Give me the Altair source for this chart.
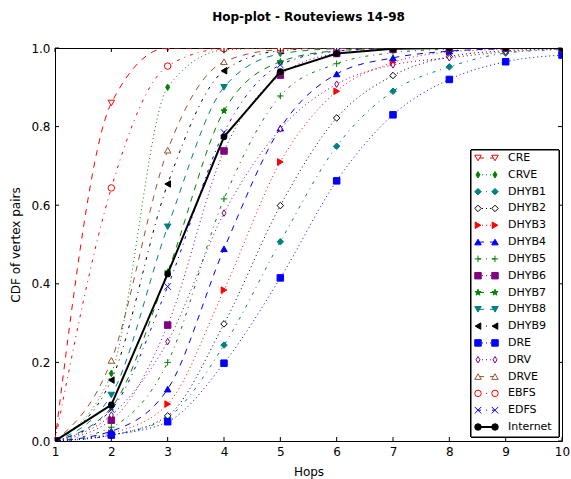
import altair as alt
import pandas as pd
import math

hops = [1, 2, 3, 4, 5, 6, 7, 8, 9, 10]

CRE = [0.0, 0.86, 1.0, 1.0, 1.0, 1.0, 1.0, 1.0, 1.0, 1.0]
CRVE = [0.0, 0.172, 0.90, 0.995, 1.0, 1.0, 1.0, 1.0, 1.0, 1.0]
DHYB1 = [0.0, 0.015, 0.06, 0.244, 0.507, 0.75, 0.89, 0.952, 0.987, 0.996]
DHYB2 = [0.0, 0.015, 0.064, 0.298, 0.599, 0.822, 0.93, 0.978, 0.993, 0.998]
DHYB3 = [0.0, 0.02, 0.094, 0.384, 0.71, 0.89, 0.963, 0.99, 0.997, 1.0]
DHYB4 = [0.0, 0.025, 0.132, 0.489, 0.796, 0.934, 0.975, 0.992, 0.998, 1.0]
DHYB5 = [0.0, 0.035, 0.20, 0.616, 0.878, 0.96, 0.988, 0.997, 1.0, 1.0]
DHYB6 = [0.0, 0.053, 0.295, 0.738, 0.931, 0.986, 0.997, 1.0, 1.0, 1.0]
DHYB7 = [0.0, 0.085, 0.43, 0.84, 0.965, 0.993, 0.999, 1.0, 1.0, 1.0]
DHYB8 = [0.0, 0.117, 0.545, 0.90, 0.985, 0.998, 1.0, 1.0, 1.0, 1.0]
DHYB9 = [0.0, 0.155, 0.654, 0.942, 0.993, 1.0, 1.0, 1.0, 1.0, 1.0]
DRE = [0.0, 0.015, 0.049, 0.198, 0.415, 0.662, 0.83, 0.92, 0.965, 0.982]
DRV = [0.0, 0.066, 0.253, 0.58, 0.794, 0.908, 0.957, 0.975, 0.99, 0.997]
DRVE = [0.0, 0.205, 0.74, 0.965, 0.996, 1.0, 1.0, 1.0, 1.0, 1.0]
EBFS = [0.0, 0.644, 0.954, 0.998, 1.0, 1.0, 1.0, 1.0, 1.0, 1.0]
EDFS = [0.0, 0.08, 0.393, 0.785, 0.957, 0.992, 0.999, 1.0, 1.0, 1.0]
Internet = [0.0, 0.092, 0.425, 0.774, 0.94, 0.986, 0.998, 1.0, 1.0, 1.0]

names = ["CRE", "CRVE", "DHYB1", "DHYB2", "DHYB3", "DHYB4", "DHYB5", "DHYB6",
         "DHYB7", "DHYB8", "DHYB9", "DRE", "DRV", "DRVE", "EBFS", "EDFS", "Internet"]
series = [CRE, CRVE, DHYB1, DHYB2, DHYB3, DHYB4, DHYB5, DHYB6, DHYB7, DHYB8,
          DHYB9, DRE, DRV, DRVE, EBFS, EDFS, Internet]

x_ticks = hops
y_ticks = [0.0, 0.2, 0.4, 0.6, 0.8, 1.0]

# styles
RED, GREEN, TEAL, BLACK, BLUE, PURPLE, BROWN = "#ff0000", "#008000", "#008080", "#000000", "#0000ff", "#800080", "#a0522d"
colors = [RED, GREEN, TEAL, BLACK, RED, BLUE, GREEN, PURPLE, GREEN, TEAL, BLACK, BLUE, PURPLE, BROWN, RED, BLUE, BLACK]
DASHED, DOTTED, DASHDOT, SOLID = [6, 6], [1, 3], [3, 5, 1, 5], [1, 0]
dashes = [DASHED, DOTTED, DASHDOT, DOTTED, DOTTED, DASHED, DASHDOT, DOTTED, DASHED, DASHED,
          DASHDOT, DOTTED, DOTTED, DASHED, DASHDOT, DASHDOT, SOLID]

THIN_D = "M0,-1L0.62,0L0,1L-0.62,0Z"
PLUS = "M-1,0L1,0M0,-1L0,1"
XMARK = "M-1,-1L1,1M-1,1L1,-1"
pts = []
for i in range(10):
    r = 1.0 if i % 2 == 0 else 0.4
    a = -math.pi / 2 + i * math.pi / 5
    pts.append(f"{r*math.cos(a):.3f},{r*math.sin(a):.3f}")
STAR = "M" + "L".join(pts) + "Z"
shapes = ["triangle-down", THIN_D, "diamond", "diamond", "triangle-right", "triangle-up", PLUS,
          "square", STAR, "triangle-down", "triangle-left", "square", THIN_D, "triangle-up",
          "circle", XMARK, "circle"]
open_marker = [True, False, False, True, False, False, False, False, False, False, False,
               False, True, True, True, False, False]
fills = ["white" if o else c for o, c in zip(open_marker, colors)]

rows = []
for n, vals in zip(names, series):
    for h, v in zip(hops, vals):
        rows.append({"name": n, "hop": h, "cdf": v})
df = pd.DataFrame(rows)

W, H = 507, 393
FONT = "DejaVu Sans"

xs = alt.Scale(domain=[1, 10], nice=False, zero=False)
ys = alt.Scale(domain=[0, 1], nice=False)
color = alt.Color("name:N", scale=alt.Scale(domain=names, range=colors), legend=None)
dash = alt.StrokeDash("name:N", scale=alt.Scale(domain=names, range=dashes), legend=None)
shape = alt.Shape("name:N", scale=alt.Scale(domain=names, range=shapes), legend=None)
fill = alt.Fill("name:N", scale=alt.Scale(domain=names, range=fills), legend=None)

xaxis = alt.Axis(values=x_ticks, format="d", labelPadding=5, titlePadding=9, labelFlush=False)
X = alt.X("hop:Q", scale=xs, title="Hops", axis=xaxis)
Y = alt.Y("cdf:Q", scale=ys, title="CDF of vertex pairs",
          axis=alt.Axis(values=y_ticks, format=".1f", labelPadding=5, titlePadding=8, labelFlush=False))
Yn = alt.Y("cdf:Q", scale=ys, axis=None)

base = alt.Chart(df)
others = base.transform_filter(alt.datum.name != "Internet")
inet = base.transform_filter(alt.datum.name == "Internet")

lines = others.mark_line(strokeWidth=1, clip=True, interpolate="monotone").encode(
    x=X, y=Y, color=color, strokeDash=dash, detail="name:N")
points = others.mark_point(size=42, strokeWidth=1, opacity=1, filled=False, clip=True).encode(
    x=X, y=Yn, shape=shape, stroke=color, fill=fill)
iline = inet.mark_line(strokeWidth=2, clip=True, color=BLACK).encode(
    x=X, y=Yn)
ipts = inet.mark_point(size=45, opacity=1, filled=True, clip=True, color=BLACK, shape="circle").encode(
    x=X, y=Yn)

# inward ticks
xt = alt.Chart(pd.DataFrame({"hop": x_ticks}))
yt = alt.Chart(pd.DataFrame({"cdf": y_ticks}))
tick_b = xt.mark_rule(color="black", strokeWidth=1).encode(x=X, y=alt.value(H), y2=alt.value(H - 4))
tick_t = xt.mark_rule(color="black", strokeWidth=1).encode(x=X, y=alt.value(0), y2=alt.value(4))
tick_l = yt.mark_rule(color="black", strokeWidth=1).encode(y=Yn, x=alt.value(0), x2=alt.value(4))
tick_r = yt.mark_rule(color="black", strokeWidth=1).encode(y=Yn, x=alt.value(W - 4), x2=alt.value(W))

# legend
leg_df = pd.DataFrame({"name": names})
ly = alt.Y("name:N", scale=alt.Scale(type="point", domain=names, range=[110, 379], padding=0), axis=None)
leg = alt.Chart(leg_df)
box = leg.mark_rect(fill="white", stroke="black", strokeWidth=1).encode(
    x=alt.value(416), x2=alt.value(504), y=alt.value(102), y2=alt.value(389))
lrule_o = leg.transform_filter(alt.datum.name != "Internet").mark_rule(strokeWidth=1).encode(
    x=alt.value(423), x2=alt.value(440), y=ly, color=color, strokeDash=dash)
lrule_i = leg.transform_filter(alt.datum.name == "Internet").mark_rule(strokeWidth=2, color=BLACK).encode(
    x=alt.value(423), x2=alt.value(440), y=ly)
lp1 = leg.mark_point(size=42, strokeWidth=1, opacity=1).encode(
    x=alt.value(423), y=ly, shape=shape, stroke=color, fill=fill)
lp2 = leg.mark_point(size=42, strokeWidth=1, opacity=1).encode(
    x=alt.value(440), y=ly, shape=shape, stroke=color, fill=fill)
ltext = leg.mark_text(align="left", baseline="middle", font=FONT, fontSize=11, color="black").encode(
    x=alt.value(453), y=ly, text="name:N")

chart = alt.layer(
    lines, points, iline, ipts, tick_b, tick_t, tick_l, tick_r,
    box, lrule_o, lrule_i, lp1, lp2, ltext
).resolve_scale(y="independent").properties(
    width=W, height=H,
    title=alt.TitleParams("Hop-plot - Routeviews 14-98", font=FONT, fontSize=12,
                          fontWeight="bold", color="black", offset=18, anchor="middle"),
    autosize=alt.AutoSizeParams(type="none"),
    padding={"left": 55, "top": 48, "right": 9, "bottom": 38},
).configure_view(stroke="black", strokeWidth=1).configure_axis(
    grid=False, domain=False, ticks=False, labelFont=FONT, labelFontSize=12, labelColor="black",
    titleFont=FONT, titleFontSize=12, titleFontWeight="normal", titleColor="black"
)

chart.save("out.html", embed_options={"renderer": "svg", "actions": False})
